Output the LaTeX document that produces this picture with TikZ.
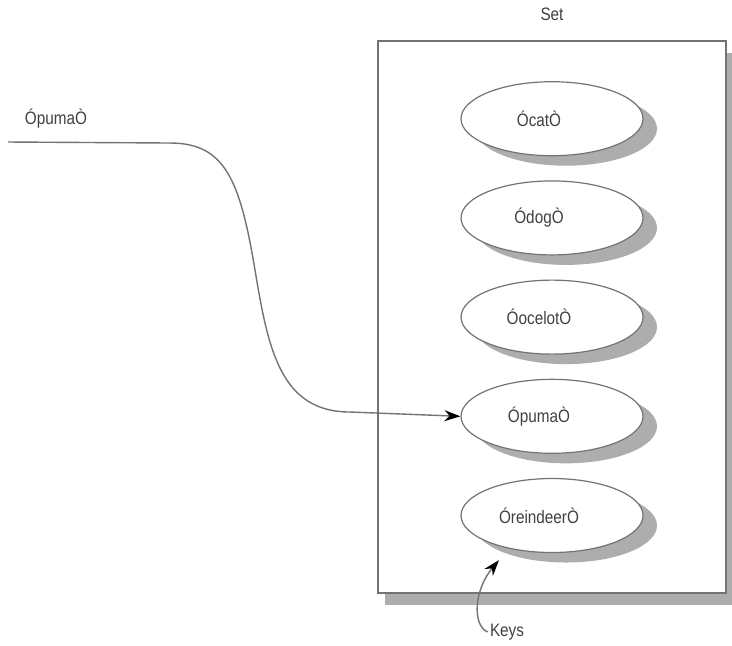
\documentclass[tikz,border=0pt]{standalone}
\usepackage{fontspec}
\setmainfont{Liberation Sans}[FakeStretch=0.85]
\usepackage{tikz}
\usetikzlibrary{positioning, arrows.meta, shapes.geometric, shadows}

\begin{document}
\begin{tikzpicture}[
    x=0.5pt, y=-0.5pt,
    node distance=12pt,
    txt/.style={
        text=black!75,
        font=\fontsize{9}{11}\selectfont
    },
    setbox/.style={
        rectangle,
        draw=black!55,
        line width=0.9pt,
        fill=white,
        minimum width=174pt,
        minimum height=276pt,
        drop shadow={shadow xshift=3.5pt, shadow yshift=-6pt, fill=black!32, opacity=1}
    },
    keynode/.style={
        ellipse,
        draw=black!55,
        line width=0.6pt,
        fill=white,
        inner sep=0pt,
        minimum width=91pt,
        minimum height=37pt,
        txt,
        execute at end node={\hspace{13pt}},
        drop shadow={shadow xshift=7pt, shadow yshift=-5pt, fill=black!32, opacity=1}
    },
    arrow/.style={
        draw=black!55,
        line width=0.7pt,
        -{Stealth[length=8pt, width=5.5pt, black]}
    }
]
\useasboundingbox (0,0) rectangle (732,645);

% The set
\node[setbox] (set) at (552,317) {};
\node[txt, above=6pt of set.north] (setlabel) {Set};

% Keys inside the set
\node[keynode, below=20.5pt of set.north] (cat) {ÓcatÒ};
\node[keynode, below=of cat] (dog) {ÓdogÒ};
\node[keynode, below=of dog] (ocelot) {ÓocelotÒ};
\node[keynode, below=of ocelot] (puma) {ÓpumaÒ};
\node[keynode, below=of puma] (reindeer) {ÓreindeerÒ};

% Incoming value
\coordinate (src) at (8,142);
\node[txt] (query) at (56,119) {ÓpumaÒ};

% Caption
\node[txt, inner sep=1pt] (keys) at (507,632) {Keys};

% Arrows
\draw[arrow] (src) -- (170,143)
    .. controls (225,143) and (240,180) .. (255,270)
    .. controls (268,348) and (280,412) .. (350,412)
    -- (puma.west);
\draw[arrow] (keys.west) .. controls (472,625) and (474,590) .. ([yshift=-7pt]reindeer.210);

\end{tikzpicture}
\end{document}
